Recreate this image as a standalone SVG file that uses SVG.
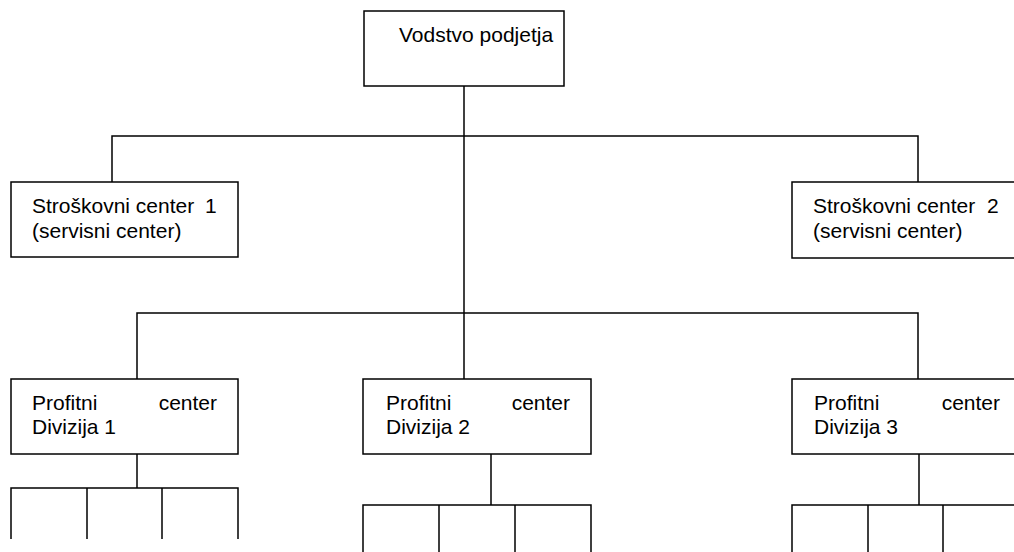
<svg xmlns="http://www.w3.org/2000/svg" width="1014" height="552" viewBox="0 0 1014 552">
  <style>
    .box { fill: #ffffff; stroke: #000000; stroke-width: 1.5; }
    .line { fill: none; stroke: #000000; stroke-width: 1.5; }
    .lbl { font-family: "Liberation Sans", Arial, sans-serif; font-size: 21px; fill: #000000; }
    .end { text-anchor: end; }
  </style>
  <rect width="1014" height="552" fill="#ffffff"/>

  <!-- connectors -->
  <g id="connectors" class="line">
    <path d="M464 86 V379"/>
    <path d="M112 182 V136 H918 V182"/>
    <path d="M137 379 V313 H918 V379"/>
    <!-- division 1 sub-units -->
    <path d="M137 454 V488"/>
    <path d="M11 539 V488 H238 V539 M87 488 V539 M162 488 V539"/>
    <!-- division 2 sub-units -->
    <path d="M491 454 V505"/>
    <path d="M363 552 V505 H591 V552 M439 505 V552 M515 505 V552"/>
    <!-- division 3 sub-units -->
    <path d="M919 454 V505"/>
    <path d="M792 552 V505 H1014 M868 505 V552 M943 505 V552"/>
  </g>

  <g id="vodstvo">
    <rect class="box" x="364" y="11" width="200" height="75"/>
    <text class="lbl" x="399" y="42">Vodstvo podjetja</text>
  </g>

  <g id="strosek1">
    <rect class="box" x="11" y="182" width="227" height="75"/>
    <text class="lbl" x="32" y="213">Stroškovni center</text>
    <text class="lbl" x="205" y="213">1</text>
    <text class="lbl" x="32" y="238">(servisni center)</text>
  </g>

  <g id="strosek2">
    <rect class="box" x="792" y="182" width="240" height="76"/>
    <text class="lbl" x="813" y="213">Stroškovni center</text>
    <text class="lbl" x="987" y="213">2</text>
    <text class="lbl" x="813" y="238">(servisni center)</text>
  </g>

  <g id="divizija1">
    <rect class="box" x="11" y="379" width="227" height="75"/>
    <text class="lbl" x="32" y="410">Profitni</text>
    <text class="lbl end" x="217" y="410">center</text>
    <text class="lbl" x="32" y="434">Divizija 1</text>
  </g>

  <g id="divizija2">
    <rect class="box" x="363" y="379" width="228" height="75"/>
    <text class="lbl" x="386" y="410">Profitni</text>
    <text class="lbl end" x="570" y="410">center</text>
    <text class="lbl" x="386" y="434">Divizija 2</text>
  </g>

  <g id="divizija3">
    <rect class="box" x="792" y="379" width="240" height="75"/>
    <text class="lbl" x="814" y="410">Profitni</text>
    <text class="lbl end" x="1000" y="410">center</text>
    <text class="lbl" x="814" y="434">Divizija 3</text>
  </g>
</svg>
